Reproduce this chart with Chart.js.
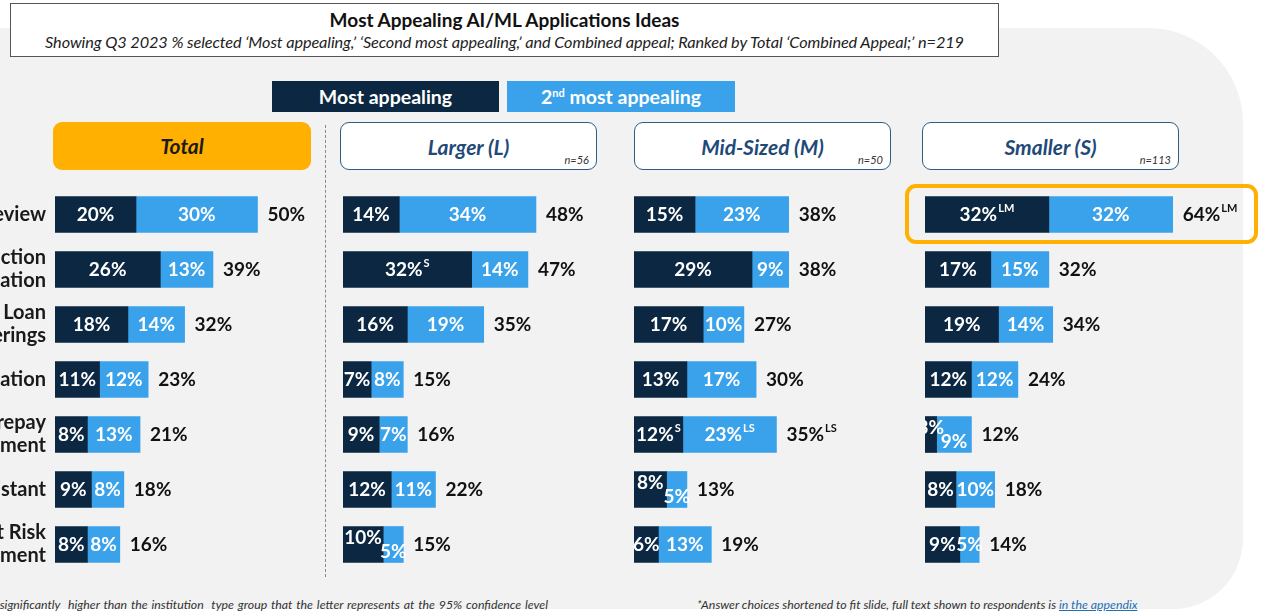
<!DOCTYPE html>
<html>
<head>
<meta charset="utf-8">
<script src="https://cdn.jsdelivr.net/npm/chart.js@4.4.1/dist/chart.umd.min.js"></script>
<style>
  body { margin: 0; width: 1262px; height: 613px; overflow: hidden; background: #fff; position: relative; font-family: Lato, sans-serif; }
  .abs { position: absolute; }
  #bgpanel { left: -30px; top: 28px; width: 1273px; height: 581px; background: #f2f2f2; border-radius: 0 95px 70px 0; }
  #titlebox { left: 10px; top: 3px; width: 987px; height: 52px; background: #fff; border: 1.5px solid #555; text-align: center; }
  #titlebox .t { font-weight: bold; font-size: 19px; color: #111; margin-top: 5px; line-height: 22px; }
  #titlebox .s { font-style: italic; font-size: 16.3px; color: #222; margin-top: 2px; line-height: 18px; letter-spacing: -0.1px; }
  .legend { top: 81px; height: 31px; line-height: 31px; color: #fff; font-weight: bold; font-size: 19.5px; text-align: center; }
  .head { top: 122px; height: 48px; line-height: 48px; border-radius: 9px; text-align: center; font-weight: bold; font-style: italic; font-size: 21px; box-sizing: border-box; }
  .head.out { background: #fff; border: 1.5px solid #2f5b85; color: #1f4a78; }
  .head .n { position: absolute; right: 7px; bottom: 3px; line-height: 12px; font-size: 11px; font-weight: normal; color: #333; }
  canvas { position: absolute; }
  .foot { top: 597px; font-size: 12.3px; font-style: italic; color: #333; white-space: nowrap; }
</style>
</head>
<body>
<div id="bgpanel" class="abs"></div>
<div id="titlebox" class="abs">
  <div class="t">Most Appealing AI/ML Applications Ideas</div>
  <div class="s">Showing Q3 2023 % selected ‘Most appealing,’ ‘Second most appealing,’ and Combined appeal; Ranked by Total ‘Combined Appeal;’ n=219</div>
</div>
<div class="abs legend" style="left:272px;width:227px;background:#0b2741;">Most appealing</div>
<div class="abs legend" style="left:507px;width:228px;background:#3aa2ea;">2<sup style="font-size:11px;line-height:0">nd</sup> most appealing</div>

<div class="abs head" style="left:53px;width:258px;background:#ffb000;color:#1a1a1a;">Total</div>
<div class="abs head out" style="left:340px;width:257px;">Larger (L)<span class="n">n=56</span></div>
<div class="abs head out" style="left:634px;width:257px;">Mid-Sized (M)<span class="n">n=50</span></div>
<div class="abs head out" style="left:922px;width:257px;">Smaller (S)<span class="n">n=113</span></div>

<div class="abs" style="left:325px;top:125px;height:452px;border-left:1.3px dashed #888;"></div>

<canvas id="cTotal" width="515" height="385" style="left:-200px;top:187px;"></canvas>
<canvas id="cLarge" width="285" height="385" style="left:343px;top:187px;"></canvas>
<canvas id="cMid" width="280" height="385" style="left:634px;top:187px;"></canvas>
<canvas id="cSmall" width="320" height="385" style="left:925px;top:187px;"></canvas>

<div class="abs" style="left:905px;top:184px;width:345px;height:52px;border:4px solid #ffb000;border-radius:11px;"></div>

<div class="abs foot" style="right:714px;word-spacing:1px;">Letters indicate a result is significantly&nbsp; higher than the institution&nbsp; type group that the letter represents at the 95% confidence level</div>
<div class="abs foot" style="left:697px;">*Answer choices shortened to fit slide, full text shown to respondents is <span style="color:#1f6fb2;text-decoration:underline;">in the appendix</span></div>

<script>
// categories (label text is cut off by the slide edge)
const categories = [
    'Loan Document Review',
    ['Debt Collection', 'Automation'],
    ['Personalize Loan', 'Offerings'],
    'Document Verification',
    ['Loan Prepay', 'Risk Management'],
    'Virtual Member Assistant',
    ['Credit Risk', 'Management']
];

// Total
const totalMost = [20, 26, 18, 11, 8, 9, 8];
const totalSecond = [30, 13, 14, 12, 13, 8, 8];
const totalCombined = [50, 39, 32, 23, 21, 18, 16];

// Larger (L)
const largeMost = [14, 32, 16, 7, 9, 12, 10];
const largeSecond = [34, 14, 19, 8, 7, 11, 5];
const largeCombined = [48, 47, 35, 15, 16, 22, 15];
const largeMostSup = ['', 'S', '', '', '', '', ''];

// Mid-Sized (M)
const midMost = [15, 29, 17, 13, 12, 8, 6];
const midSecond = [23, 9, 10, 17, 23, 5, 13];
const midCombined = [38, 38, 27, 30, 35, 13, 19];
const midMostSup = ['', '', '', '', 'S', '', ''];
const midSecondSup = ['', '', '', '', 'LS', '', ''];
const midCombinedSup = ['', '', '', '', 'LS', '', ''];

// Smaller (S)
const smallMost = [32, 17, 19, 12, 3, 8, 9];
const smallSecond = [32, 15, 14, 12, 9, 10, 5];
const smallCombined = [64, 32, 34, 24, 12, 18, 14];
const smallMostSup = ['LM', '', '', '', '', '', ''];
const smallCombinedSup = ['LM', '', '', '', '', '', ''];

const DARK = '#0b2741';
const LIGHT = '#3aa2ea';
const LABEL_FONT = 'bold 19px Lato';
const SUP_FONT = 'bold 11px Lato';

function labelWidth(ctx, text, sup) {
    ctx.font = LABEL_FONT;
    let w = ctx.measureText(text).width;
    if (sup) {
        ctx.font = SUP_FONT;
        w += ctx.measureText(sup).width + 1;
    }
    return w;
}

function drawLabel(ctx, x, y, text, sup, color) {
    ctx.fillStyle = color;
    ctx.textAlign = 'left';
    ctx.textBaseline = 'middle';
    ctx.font = LABEL_FONT;
    ctx.fillText(text, x, y);
    if (sup) {
        const w = ctx.measureText(text).width;
        ctx.font = SUP_FONT;
        ctx.fillText(sup, x + w + 1, y - 6);
    }
}

// draws segment values, and the combined value after the bar
const barLabels = {
    id: 'barLabels',
    afterDatasetsDraw(chart, args, opts) {
        const ctx = chart.ctx;
        const xScale = chart.scales.x;
        const m0 = chart.getDatasetMeta(0);
        const m1 = chart.getDatasetMeta(1);
        ctx.save();
        m0.data.forEach((bar0, i) => {
            const bar1 = m1.data[i];
            const v0 = chart.data.datasets[0].data[i];
            const v1 = chart.data.datasets[1].data[i];
            const t0 = v0 + '%', t1 = v1 + '%';
            const s0 = opts.sup0[i] || '', s1 = opts.sup1[i] || '';
            const w0 = labelWidth(ctx, t0, s0);
            const w1 = labelWidth(ctx, t1, s1);
            const c0 = (bar0.x + bar0.base) / 2;
            const c1 = (bar1.x + bar1.base) / 2;
            const gap = (c1 - w1 / 2) - (c0 + w0 / 2);
            let dy = 0;
            // stagger labels that would touch each other
            if (gap < 0.3) dy = 7;
            drawLabel(ctx, c0 - w0 / 2, bar0.y - dy, t0, s0, '#fff');
            drawLabel(ctx, c1 - w1 / 2, bar1.y + dy, t1, s1, '#fff');
            const end = xScale.getPixelForValue(v0 + v1);
            drawLabel(ctx, end + 10, bar0.y, opts.combined[i] + '%', opts.supC[i] || '', '#111');
        });
        ctx.restore();
    }
};

function makePanel(id, most, second, combined, sups, max, showCats) {
    const yAxis = { stacked: true, display: false };
    if (showCats) {
        Object.assign(yAxis, {
            display: true,
            grid: { display: false, drawTicks: false },
            border: { display: false },
            ticks: {
                color: '#1a1a1a',
                padding: 9,
                font: { family: 'Lato', size: 20, weight: 'bold', lineHeight: 1.15 }
            },
            afterFit: function (scale) {
                scale.width = 255;
                scale.paddingTop = 0;
                scale.paddingBottom = 0;
            }
        });
    }
    new Chart(document.getElementById(id), {
        type: 'bar',
        data: {
            labels: categories,
            datasets: [
                { label: 'Most appealing', data: most, backgroundColor: DARK, barThickness: 36 },
                { label: '2nd most appealing', data: second, backgroundColor: LIGHT, barThickness: 36 }
            ]
        },
        options: {
            indexAxis: 'y',
            responsive: false,
            animation: false,
            layout: { padding: 0 },
            scales: {
                x: { stacked: true, min: 0, max: max, display: false },
                y: yAxis
            },
            plugins: {
                legend: { display: false },
                tooltip: { enabled: false },
                barLabels: { combined: combined, sup0: sups[0], sup1: sups[1], supC: sups[2] }
            }
        },
        plugins: [barLabels]
    });
}

makePanel('cTotal', totalMost, totalSecond, totalCombined, [[], [], []], 260 / 4.05, true);
makePanel('cLarge', largeMost, largeSecond, largeCombined, [largeMostSup, [], []], 285 / 4.02, false);
makePanel('cMid', midMost, midSecond, midCombined, [midMostSup, midSecondSup, midCombinedSup], 280 / 4.07, false);
makePanel('cSmall', smallMost, smallSecond, smallCombined, [smallMostSup, [], smallCombinedSup], 320 / 3.87, false);
</script>
</body>
</html>
